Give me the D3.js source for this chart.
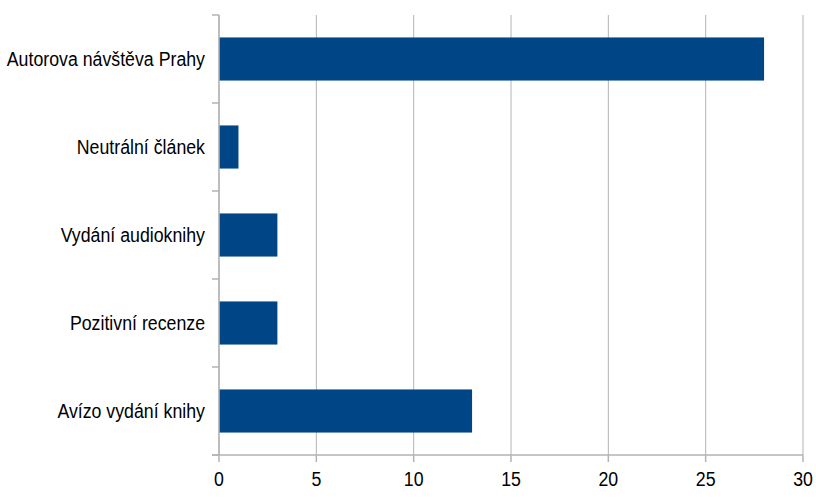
<!DOCTYPE html>
<html>
<head>
<meta charset="utf-8">
<script src="https://cdn.jsdelivr.net/npm/d3@7/dist/d3.min.js"></script>
<style>
  body { margin: 0; background: #fff; }
  svg { display: block; }
  text { font-family: "Liberation Sans", Arial, sans-serif; font-size: 21px; fill: #000; }
</style>
</head>
<body>
<script>
// Categories from top to bottom, with the count for each
const categories = ["Autorova návštěva Prahy", "Neutrální článek", "Vydání audioknihy", "Pozitivní recenze", "Avízo vydání knihy"];
const values = [28, 1, 3, 3, 13];
const xTicks = [0, 5, 10, 15, 20, 25, 30];

const W = 816, H = 500;
const margin = { top: 15, right: 13, bottom: 45, left: 219 };
// Labels are set in a horizontally condensed face
const condense = 0.845;

const svg = d3.select("body").append("svg").attr("width", W).attr("height", H);

const x = d3.scaleLinear().domain([0, 30]).range([margin.left, W - margin.right]);
const y = d3.scaleBand().domain(categories).range([margin.top, H - margin.bottom]).paddingInner(0.51).paddingOuter(0.255);

const gridColor = "#b3b3b3";

// Vertical gridlines
svg.append("g").selectAll("line").data(xTicks).join("line")
  .attr("x1", d => x(d)).attr("x2", d => x(d))
  .attr("y1", margin.top).attr("y2", H - margin.bottom)
  .attr("stroke", gridColor).attr("stroke-width", 1);

// Bars
svg.append("g").selectAll("rect").data(categories).join("rect")
  .attr("x", x(0))
  .attr("y", d => y(d))
  .attr("width", (d, i) => x(values[i]) - x(0))
  .attr("height", y.bandwidth())
  .attr("fill", "#004586");

// Category axis: boundary ticks between bands
const yBounds = d3.range(categories.length + 1).map(i => margin.top + i * (H - margin.bottom - margin.top) / categories.length);
const yAxis = svg.append("g");
yAxis.append("line")
  .attr("x1", x(0)).attr("x2", x(0))
  .attr("y1", margin.top).attr("y2", H - margin.bottom)
  .attr("stroke", gridColor).attr("stroke-width", 1.5);
yAxis.selectAll("line.tick").data(yBounds).join("line")
  .attr("class", "tick")
  .attr("x1", x(0) - 7).attr("x2", x(0))
  .attr("y1", d => d).attr("y2", d => d)
  .attr("stroke", gridColor).attr("stroke-width", 1.5);
yAxis.selectAll("text").data(categories).join("text")
  .attr("transform", d => `translate(${x(0) - 14},${y(d) + y.bandwidth() / 2}) scale(${condense},1)`)
  .attr("dy", "0.35em")
  .attr("text-anchor", "end")
  .text(d => d);

// Value axis along the bottom
const xAxis = svg.append("g");
xAxis.append("line")
  .attr("x1", x(0) - 7).attr("x2", x(30))
  .attr("y1", H - margin.bottom).attr("y2", H - margin.bottom)
  .attr("stroke", gridColor).attr("stroke-width", 1.5);
xAxis.selectAll("line.tick").data(xTicks).join("line")
  .attr("class", "tick")
  .attr("x1", d => x(d)).attr("x2", d => x(d))
  .attr("y1", H - margin.bottom).attr("y2", H - margin.bottom + 7)
  .attr("stroke", gridColor).attr("stroke-width", 1.5);
xAxis.selectAll("text").data(xTicks).join("text")
  .attr("transform", d => `translate(${x(d)},${H - margin.bottom + 24}) scale(${condense},1)`)
  .attr("dy", "0.35em")
  .attr("text-anchor", "middle")
  .text(d => d);
</script>
</body>
</html>
